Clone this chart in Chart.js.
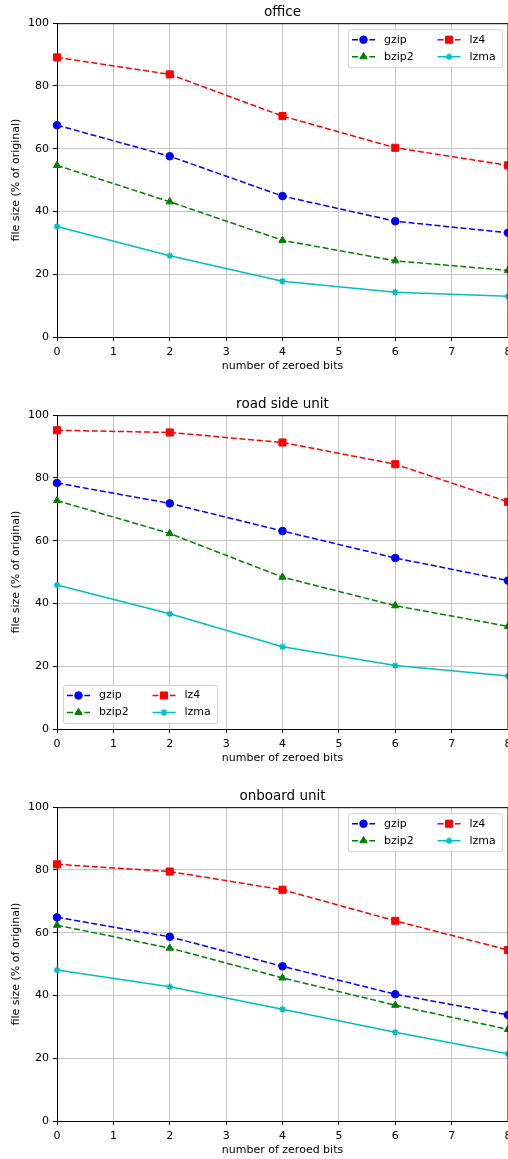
<!DOCTYPE html>
<html lang="en">
<head>
  <meta charset="UTF-8">
  <title>File size vs zeroed bits</title>
  <script src="https://cdn.jsdelivr.net/npm/chart.js"></script>
  <style>
    html, body { margin: 0; padding: 0; background: #fff; overflow: hidden; }
    .panel { position: absolute; left: 0; width: 508px; overflow: hidden; }
    canvas { display: block; }
  </style>
</head>
<body>
  <div class="panel" style="top:0;height:392px"><canvas id="office" width="516" height="392"></canvas></div>
  <div class="panel" style="top:392px;height:392px"><canvas id="rsu" width="516" height="392"></canvas></div>
  <div class="panel" style="top:784px;height:375px"><canvas id="obu" width="516" height="375"></canvas></div>
  <script>
    // x values (number of zeroed bits) and axis ticks
    const bits = [0, 2, 4, 6, 8];
    const xTicks = [0, 1, 2, 3, 4, 5, 6, 7, 8];
    const yTicks = [0, 20, 40, 60, 80, 100];

    // office
    const officeGzip  = [67.5, 57.6, 44.9, 36.9, 33.2];
    const officeBzip2 = [54.7, 43.1, 30.8, 24.3, 21.2];
    const officeLz4   = [89.1, 83.7, 70.4, 60.3, 54.7];
    const officeLzma  = [35.2, 25.9, 17.8, 14.3, 13.0];

    // road side unit
    const rsuGzip  = [78.4, 71.9, 63.1, 54.5, 47.3];
    const rsuBzip2 = [72.8, 62.3, 48.4, 39.3, 32.7];
    const rsuLz4   = [95.2, 94.5, 91.3, 84.4, 72.4];
    const rsuLzma  = [45.9, 36.7, 26.2, 20.2, 16.9];

    // onboard unit
    const obuGzip  = [64.9, 58.7, 49.3, 40.4, 33.8];
    const obuBzip2 = [62.4, 55.1, 45.6, 36.9, 29.2];
    const obuLz4   = [81.8, 79.5, 73.7, 63.8, 54.5];
    const obuLzma  = [48.1, 42.8, 35.6, 28.3, 21.4];

    Chart.defaults.font.family = '"DejaVu Sans", sans-serif';
    Chart.defaults.color = '#000';

    const styles = {
      gzip:  { color: '#0000ff', point: 'circle',   r: 3.8, bw: 1,   dash: [6, 2.7] },
      bzip2: { color: '#008000', point: 'triangle', r: 4.2, bw: 1,   dash: [6, 2.7] },
      lz4:   { color: '#ff0000', point: 'rect',     r: 5,   bw: 1,   dash: [6, 2.7] },
      lzma:  { color: '#00bfbf', point: 'star',     r: 3.2, bw: 1.5, dash: [] }
    };

    function makeSet(name, values) {
      const s = styles[name];
      return {
        label: name,
        data: bits.map((b, i) => ({ x: b, y: values[i] })),
        borderColor: s.color,
        backgroundColor: s.color,
        pointBackgroundColor: s.color,
        pointBorderColor: s.color,
        pointStyle: s.point,
        pointRadius: s.r,
        pointBorderWidth: s.bw,
        borderWidth: 1.5,
        borderDash: s.dash,
        tension: 0,
        clip: false
      };
    }

    // top and right spines
    const framePlugin = {
      id: 'frame',
      afterDatasetsDraw(chart) {
        const { ctx, chartArea: a } = chart;
        ctx.save();
        ctx.strokeStyle = '#000';
        ctx.lineWidth = 1;
        ctx.beginPath();
        ctx.moveTo(a.left, a.top + 0.5);
        ctx.lineTo(a.right, a.top + 0.5);
        ctx.lineTo(a.right, a.bottom);
        ctx.stroke();
        ctx.restore();
      }
    };

    // matplotlib-like legend box, 2 columns, inside the axes
    const boxLegend = {
      id: 'boxLegend',
      afterDraw(chart, args, opts) {
        const { ctx, chartArea: a } = chart;
        const w = 154, h = 38;
        const x0 = opts.corner === 'ur' ? a.right - 6 - w : a.left + 6;
        const y0 = opts.corner === 'ur' ? a.top + 6 : a.bottom - 6 - h;
        ctx.save();
        ctx.fillStyle = 'rgba(255,255,255,0.8)';
        ctx.strokeStyle = '#d0d0d0';
        ctx.lineWidth = 1;
        ctx.beginPath();
        ctx.roundRect(x0 + 0.5, y0 + 0.5, w, h, 2);
        ctx.fill();
        ctx.stroke();
        chart.data.datasets.forEach((ds, i) => {
          const col = Math.floor(i / 2), row = i % 2;
          const lx = x0 + 4 + col * 85.5, ly = y0 + 10.5 + row * 17;
          ctx.strokeStyle = ds.borderColor;
          ctx.fillStyle = ds.borderColor;
          ctx.lineWidth = 1.5;
          ctx.setLineDash(ds.borderDash);
          ctx.beginPath();
          ctx.moveTo(lx, ly);
          ctx.lineTo(lx + 23, ly);
          ctx.stroke();
          ctx.setLineDash([]);
          ctx.lineWidth = ds.pointBorderWidth;
          Chart.helpers.drawPoint(ctx, {
            pointStyle: ds.pointStyle, radius: ds.pointRadius,
            borderWidth: ds.pointBorderWidth, rotation: 0
          }, lx + 11.5, ly);
          ctx.fillStyle = '#000';
          ctx.font = '11px "DejaVu Sans"';
          ctx.textBaseline = 'middle';
          ctx.textAlign = 'left';
          ctx.fillText(ds.label, lx + 32, ly);
        });
        ctx.restore();
      }
    };

    function makeChart(id, title, sets, corner, bottomPad) {
      new Chart(document.getElementById(id), {
        type: 'line',
        data: {
          datasets: [
            makeSet('gzip', sets[0]),
            makeSet('bzip2', sets[1]),
            makeSet('lz4', sets[2]),
            makeSet('lzma', sets[3])
          ]
        },
        options: {
          responsive: false,
          animation: false,
          layout: { padding: { top: 0, left: 0, right: 5.5, bottom: bottomPad } },
          plugins: {
            legend: { display: false },
            tooltip: { enabled: false },
            title: {
              display: true,
              text: title,
              fullSize: false,
              font: { size: 13.5, weight: 'normal' },
              padding: { top: 4, bottom: 3 }
            },
            boxLegend: { corner: corner }
          },
          scales: {
            x: {
              type: 'linear',
              min: 0,
              max: 8,
              afterBuildTicks: s => { s.ticks = xTicks.map(v => ({ value: v })); },
              afterFit: s => { s.height = 35.4; },
              ticks: { font: { size: 11 }, padding: 4.5, maxRotation: 0 },
              grid: { color: '#c4c4c4', lineWidth: 1, tickColor: '#000', tickLength: 4 },
              border: { color: '#000', width: 1 },
              title: {
                display: true,
                text: 'number of zeroed bits',
                font: { size: 11 },
                padding: { top: 0, bottom: 0 }
              }
            },
            y: {
              min: 0,
              max: 100,
              afterBuildTicks: s => { s.ticks = yTicks.map(v => ({ value: v })); },
              afterFit: s => { s.width = 57; },
              ticks: { font: { size: 11 }, padding: 4 },
              grid: { color: '#c4c4c4', lineWidth: 1, tickColor: '#000', tickLength: 4 },
              border: { color: '#000', width: 1 },
              title: {
                display: true,
                text: 'file size (% of original)',
                font: { size: 11 },
                padding: { top: 10, bottom: 0 }
              }
            }
          }
        },
        plugins: [framePlugin, boxLegend]
      });
    }

    makeChart('office', 'office', [officeGzip, officeBzip2, officeLz4, officeLzma], 'ur', 19.6);
    makeChart('rsu', 'road side unit', [rsuGzip, rsuBzip2, rsuLz4, rsuLzma], 'll', 19.6);
    makeChart('obu', 'onboard unit', [obuGzip, obuBzip2, obuLz4, obuLzma], 'ur', 2.6);
  </script>
</body>
</html>
